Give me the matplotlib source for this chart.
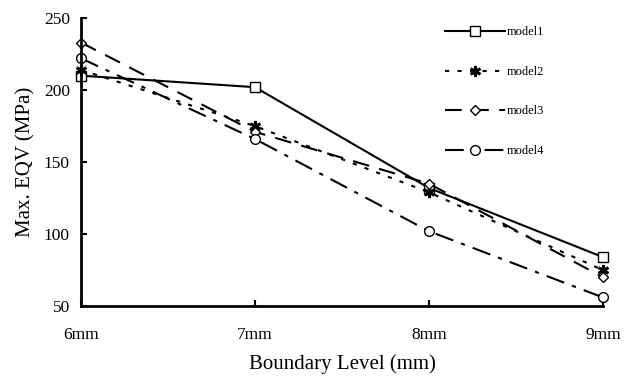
import matplotlib.pyplot as plt

# Data
levels = ["6mm", "7mm", "8mm", "9mm"]
model1 = [210, 202, 132, 84]
model2 = [214, 175, 129, 75]
model3 = [233, 171, 135, 70]
model4 = [222, 166, 102, 56]
labels = ["model1", "model2", "model3", "model4"]

plt.rcParams["font.family"] = ["Liberation Serif", "DejaVu Serif"]

fig = plt.figure(figsize=(6.38, 3.76), dpi=100)
ax = fig.add_axes([0.127, 0.186, 0.818, 0.766])

x = range(len(levels))
styles = [
    dict(ls="-", marker="s", ms=7),
    dict(ls=(0, (2, 4)), marker=(6, 2, 0), ms=8, mew=2),
    dict(ls=(0, (8, 5)), marker="D", ms=5),
    dict(ls=(0, (9, 4, 2, 4)), marker="o", ms=7),
]
for vals, lab, st in zip([model1, model2, model3, model4], labels, styles):
    ax.plot(x, vals, color="black", lw=1.5, mfc="white", mec="black",
            label=lab, clip_on=False, **st)

ax.set_xlim(0, 3)
ax.set_ylim(50, 250)
ax.set_yticks([50, 100, 150, 200, 250])
ax.set_xticks(list(x))
ax.set_xticklabels(levels)
ax.spines["top"].set_visible(False)
ax.spines["right"].set_visible(False)
ax.spines["left"].set_linewidth(2)
ax.spines["bottom"].set_linewidth(2)
ax.tick_params(axis="both", direction="in", length=4, width=1.5, labelsize=12.5)
ax.tick_params(axis="y", pad=8)
ax.tick_params(axis="x", pad=15)
ax.set_xlabel("Boundary Level (mm)", fontsize=15, labelpad=8)
ax.set_ylabel("Max. EQV (MPa)", fontsize=15, labelpad=6)

ax.legend(loc="upper left", bbox_to_anchor=(0.675, 1.01), frameon=False,
          fontsize=9, handlelength=4.8, labelspacing=2.2, handletextpad=0.2)

fig.savefig("out.png", dpi=100)
